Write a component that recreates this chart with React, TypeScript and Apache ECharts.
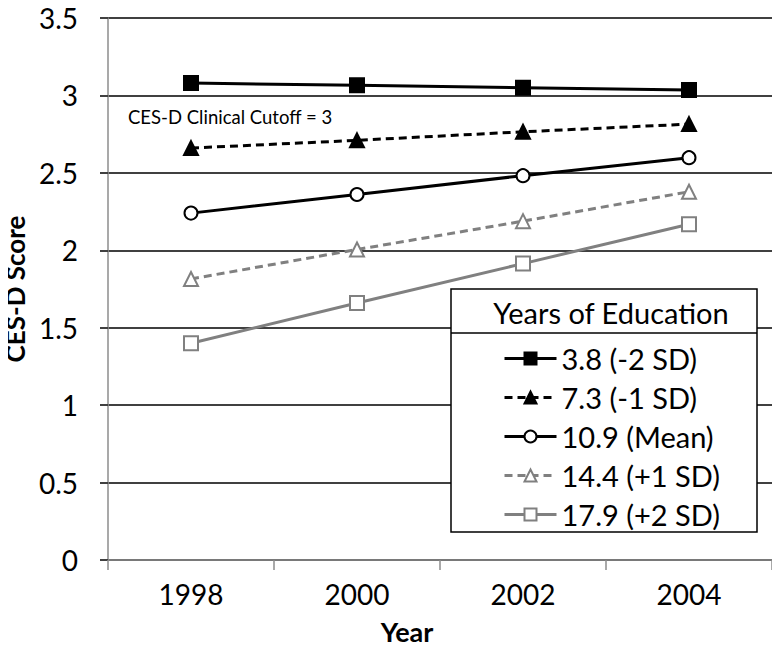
import React, { useEffect, useRef } from "react";
import * as echarts from "echarts";

const years = ["1998", "2000", "2002", "2004"];
const seriesNames = ["3.8 (-2 SD)", "7.3 (-1 SD)", "10.9 (Mean)", "14.4 (+1 SD)", "17.9 (+2 SD)"];
const minus2SD = [3.08, 3.065, 3.05, 3.035];
const minus1SD = [2.66, 2.71, 2.765, 2.815];
const meanEdu = [2.24, 2.36, 2.482, 2.598];
const plus1SD = [1.815, 2.005, 2.188, 2.378];
const plus2SD = [1.4, 1.66, 1.914, 2.168];
const yTicks = { min: 0, max: 3.5, interval: 0.5 };

const FONT = "Lato, 'Open Sans', sans-serif";
const BLACK = "#000000";
const GRAY = "#808080";

export default function App() {
  const ref = useRef<HTMLDivElement>(null);
  useEffect(() => {
    if (!ref.current) return;
    const chart = echarts.init(ref.current, undefined, { renderer: "svg" });
    const mk = (name: string, data: number[], color: string, symbol: string, size: number, dashed: boolean) => ({
      name,
      type: "line",
      data,
      symbol,
      symbolSize: size,
      showSymbol: true,
      itemStyle: { color, borderColor: color, borderWidth: 2 },
      lineStyle: { color, width: 3, type: dashed ? [8, 5] : "solid" },
      z: 2,
    });
    chart.setOption({
      animation: false,
      backgroundColor: "#ffffff",
      textStyle: { fontFamily: FONT },
      grid: { left: 108, right: 8, top: 18, bottom: 99, containLabel: false, outerBoundsMode: "none" },
      xAxis: {
        type: "category",
        data: years,
        boundaryGap: true,
        name: "Year",
        nameLocation: "middle",
        nameGap: 58,
        nameTextStyle: { fontFamily: FONT, fontSize: 27, fontWeight: "bold", color: "#000", padding: [0, 66, 0, 0] },
        axisLine: { show: true, lineStyle: { color: "#8c8c8c", width: 1.5 } },
        axisTick: { show: true, length: 10, lineStyle: { color: "#8c8c8c", width: 1.5 } },
        axisLabel: { fontFamily: FONT, fontSize: 28, color: "#000", margin: 20 },
        splitLine: { show: false },
      },
      yAxis: {
        type: "value",
        min: yTicks.min,
        max: yTicks.max,
        interval: yTicks.interval,
        name: "CES-D Score",
        nameLocation: "middle",
        nameGap: 69,
        nameRotate: 90,
        nameTextStyle: { fontFamily: FONT, fontSize: 26, fontWeight: "bold", color: "#000" },
        axisLine: { show: true, lineStyle: { color: "#8c8c8c", width: 1.5 } },
        axisTick: { show: true, length: 8, lineStyle: { color: "#404040", width: 2 } },
        axisLabel: { fontFamily: FONT, fontSize: 28, color: "#000", margin: 30 },
        splitLine: { show: true, lineStyle: { color: "#404040", width: 2 } },
      },
      legend: {
        orient: "vertical",
        left: 498,
        top: 339,
        itemWidth: 52,
        itemHeight: 15,
        itemGap: 10,
        data: seriesNames,
        textStyle: { fontFamily: FONT, fontSize: 29, color: "#000", lineHeight: 29 },
        lineStyle: { width: 3 },
        z: 10,
      },
      graphic: [
        {
          type: "rect",
          z: 5,
          shape: { x: 451, y: 289, width: 306, height: 243 },
          style: { fill: "#ffffff", stroke: "#000000", lineWidth: 1.5 },
        },
        {
          type: "line",
          z: 6,
          shape: { x1: 451, y1: 333, x2: 757, y2: 333 },
          style: { stroke: "#000000", lineWidth: 1.5 },
        },
        {
          type: "text",
          z: 6,
          x: 611,
          y: 312,
          style: {
            text: "Years of Education",
            font: `29px ${FONT}`,
            fill: "#000",
            align: "center",
            verticalAlign: "middle",
          },
        },
        {
          type: "text",
          z: 6,
          x: 128,
          y: 117,
          style: {
            text: "CES-D Clinical Cutoff = 3",
            font: `18.5px ${FONT}`,
            fill: "#000",
            align: "left",
            verticalAlign: "middle",
          },
        },
      ],
      series: [
        mk(seriesNames[0], minus2SD, BLACK, "rect", 14, false),
        mk(seriesNames[1], minus1SD, BLACK, "triangle", 14, true),
        mk(seriesNames[2], meanEdu, BLACK, "emptyCircle", 13, false),
        mk(seriesNames[3], plus1SD, GRAY, "emptyTriangle", 14, true),
        mk(seriesNames[4], plus2SD, GRAY, "emptyRect", 14, false),
      ],
    });
    return () => chart.dispose();
  }, []);
  return <div ref={ref} style={{ width: 780, height: 659, margin: -8 }} />;
}
